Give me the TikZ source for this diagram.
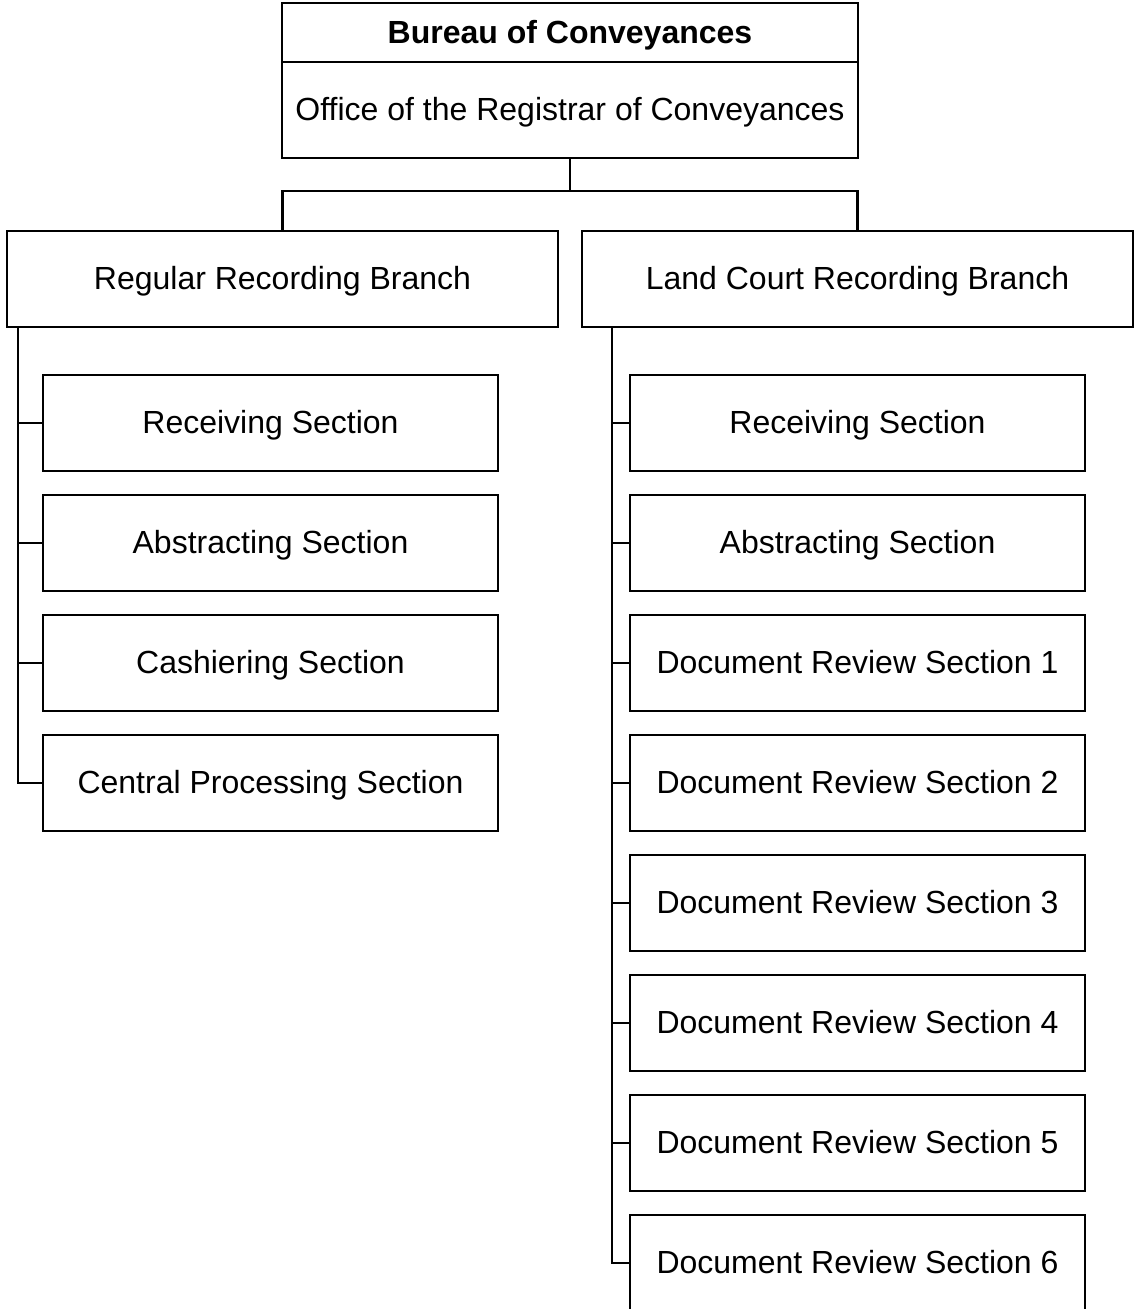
\documentclass[tikz,border=0pt]{standalone}
\usepackage{fontspec}
\setmainfont{Liberation Sans}
\begin{document}
\begin{tikzpicture}[x=1pt, y=-1pt, line width=2.2pt,
		box/.style = {draw, rectangle,
				inner sep=0pt,
				text height=22pt, text depth=1pt,
				minimum height=96pt,
				font=\fontsize{32}{38}\selectfont},
		branch/.style = {box, minimum width=551pt},
		unit/.style = {box, minimum width=455pt}]

	\useasboundingbox (0,0) rectangle (1134,1309);

	% Head office
	\node[box, minimum width=576pt, minimum height=59pt,
		font=\fontsize{32}{38}\selectfont\bfseries] (bureau) at (570,32.5) {Bureau of Conveyances};
	\node[box, minimum width=576pt] (registrar) at (570,110) {Office of the Registrar of Conveyances};

	% Branches
	\node[branch] (regular) at (282.5,279) {Regular Recording Branch};
	\node[branch] (landcourt) at (857.5,279) {Land Court Recording Branch};

	% Sections of the regular branch
	\foreach \name [count=\i] in {Receiving, Abstracting, Cashiering, Central Processing}
		\node[unit] (reg\i) at (270.5,303+120*\i) {\name\ Section};

	% Sections of the land court branch
	\foreach \name [count=\i] in {Receiving Section, Abstracting Section,
			Document Review Section 1, Document Review Section 2,
			Document Review Section 3, Document Review Section 4,
			Document Review Section 5, Document Review Section 6}
		\node[unit] (land\i) at (857.5,303+120*\i) {\name};

	% Head office to branches
	\draw (registrar.south) -- ++(0,32) -| (regular.north);
	\draw (registrar.south) -- ++(0,32) -| (landcourt.north);

	% Spines
	\path (regular.south west) ++(12,0) coordinate (regspine);
	\path (landcourt.south west) ++(31,0) coordinate (landspine);
	\draw (regspine) |- (reg4.west);
	\draw (landspine) |- (land8.west);
	\foreach \i in {1,...,3}
		\draw (reg\i.west) -- ++(-24,0);
	\foreach \i in {1,...,7}
		\draw (land\i.west) -- ++(-17,0);

\end{tikzpicture}
\end{document}
